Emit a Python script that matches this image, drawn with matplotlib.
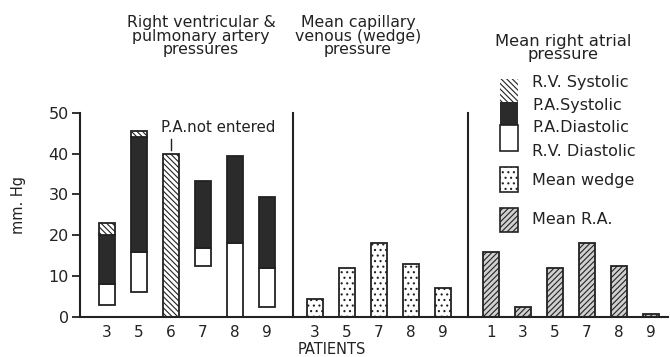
import matplotlib
matplotlib.use("Agg")
import matplotlib.pyplot as plt
from matplotlib.patches import Rectangle
import numpy as np

# ---- data ----
rv_patients = ["3", "5", "6", "7", "8", "9"]
rv_diastolic = [3, 6, 0, 12.5, 0, 2.5]        # bottom of white box
pa_diastolic = [8, 16, None, 17, 18, 12]       # top of white box
pa_systolic = [20, 44, None, 33.3, 39.5, 29.3] # top of dark box
rv_systolic = [23, 45.5, 40, None, None, None] # top of hatched box

wedge_patients = ["3", "5", "7", "8", "9"]
wedge_values = [4.5, 12, 18, 13, 7]

ra_patients = ["1", "3", "5", "7", "8", "9"]
ra_values = [16, 2.5, 12, 18, 12.5, 0.8]

ink = "#222222"
dark = "#2b2b2b"
grey = "#d0d0d0"
plt.rcParams['hatch.linewidth'] = 0.8
plt.rcParams['font.family'] = ['DejaVu Sans']

W, H = 670, 357
fig = plt.figure(figsize=(W/100, H/100), dpi=100)
fig.patch.set_facecolor("white")

def fx(px):
    return px / W
def fy(py):
    return 1 - py / H

left_px, right_px, bot_px, top_px = 80, 668, 317, 112.7
ax = fig.add_axes([fx(left_px), fy(bot_px), fx(right_px) - fx(left_px), fy(top_px) - fy(bot_px)])

# x positions
x1 = np.arange(len(rv_patients), dtype=float)
x2 = 6.5 + np.arange(len(wedge_patients))
x3 = 12 + np.arange(len(ra_patients))
bw = 0.5
rv_hatch = "\\\\\\\\\\\\"

# group 1
for i, xx in enumerate(x1):
    b = rv_diastolic[i]
    if pa_diastolic[i] is None:
        ax.bar(xx, rv_systolic[i] - b, bw, bottom=b, facecolor="white",
               edgecolor=ink, hatch=rv_hatch, linewidth=1.3)
        continue
    ax.bar(xx, pa_diastolic[i] - b, bw, bottom=b, facecolor="white", edgecolor=ink, linewidth=1.3)
    ax.bar(xx, pa_systolic[i] - pa_diastolic[i], bw, bottom=pa_diastolic[i],
           facecolor=dark, edgecolor=ink, linewidth=1.3)
    if rv_systolic[i] is not None:
        ax.bar(xx, rv_systolic[i] - pa_systolic[i], bw, bottom=pa_systolic[i],
               facecolor="white", edgecolor=ink, hatch=rv_hatch, linewidth=1.3)

# group 2
ax.bar(x2, wedge_values, bw, facecolor="white", edgecolor=ink, hatch="...", linewidth=1.3)
# group 3
ax.bar(x3, ra_values, bw, facecolor=grey, edgecolor=ink, hatch="//////", linewidth=1.3)

# dividers
for d in (5.81, 11.28):
    ax.plot([d, d], [0, 50], color=ink, lw=1.5, clip_on=False)

ax.set_xlim(-0.84, (right_px - 107) / 32)
ax.set_ylim(0, 50)
ax.set_yticks([0, 10, 20, 30, 40, 50])
ax.set_xticks(list(x1) + list(x2) + list(x3))
ax.set_xticklabels(rv_patients + wedge_patients + ra_patients)
ax.tick_params(axis='x', length=0, pad=6, labelsize=11, colors=ink)
ax.tick_params(axis='y', length=6, width=1.3, pad=2, labelsize=11.5, colors=ink, direction='out')
for s in ("top", "right"):
    ax.spines[s].set_visible(False)
for s in ("left", "bottom"):
    ax.spines[s].set_color(ink)
    ax.spines[s].set_linewidth(1.5)

# annotation
ax.text(2 - 0.3, 46.3, "P.A.not entered", fontsize=10.8, color=ink, ha="left", va="center")
ax.plot([2, 2], [40.8, 43.5], color=ink, lw=1)

# labels
fig.text(fx(18), fy(205), "mm. Hg", rotation=90, ha="center", va="center", fontsize=10.5, color=ink)
fig.text(fx(332), fy(349), "PATIENTS", ha="center", va="center", fontsize=10.5, color=ink)

# titles
fig.text(fx(201), fy(36), "Right ventricular &\npulmonary artery\npressures", ha="center",
         va="center", fontsize=11.3, color=ink, linespacing=0.85)
fig.text(fx(358), fy(36), "Mean capillary\nvenous (wedge)\npressure", ha="center",
         va="center", fontsize=11.3, color=ink, linespacing=0.85)
fig.text(fx(563), fy(48), "Mean right atrial\npressure", ha="center",
         va="center", fontsize=11.8, color=ink, linespacing=0.85)

# legend (figure coordinates)
def frect(x0, y0, x1_, y1_, **kw):
    r = Rectangle((fx(x0), fy(y1_)), fx(x1_) - fx(x0), fy(y0) - fy(y1_),
                  transform=fig.transFigure, figure=fig, **kw)
    fig.patches.append(r)

lx0, lx1 = 500, 518
frect(lx0, 79, lx1, 102, facecolor="white", edgecolor=ink, hatch=rv_hatch, linewidth=0)
frect(lx0, 102, lx1, 125, facecolor=dark, edgecolor=dark, linewidth=0)
frect(lx0, 125, lx1, 151, facecolor="white", edgecolor=ink, linewidth=1.2)
frect(lx0, 167, lx1, 192, facecolor="white", edgecolor=ink, hatch="...", linewidth=1.2)
frect(lx0, 208, lx1, 232, facecolor=grey, edgecolor=ink, hatch="//////", linewidth=1.2)

tx = 532
for label, yy in [("R.V. Systolic", 82), ("P.A.Systolic", 105), ("P.A.Diastolic", 127),
                  ("R.V. Diastolic", 151), ("Mean wedge", 181), ("Mean R.A.", 219)]:
    fig.text(fx(tx), fy(yy), label, ha="left", va="center", fontsize=11.5, color=ink)

fig.savefig("out.png", dpi=100, facecolor="white")
